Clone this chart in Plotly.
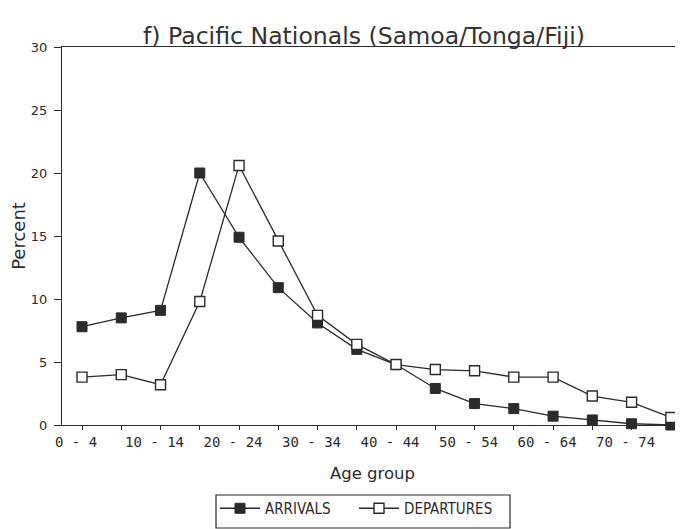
import plotly.graph_objects as go

age_groups = ["0 - 4", "5 - 9", "10 - 14", "15 - 19", "20 - 24", "25 - 29", "30 - 34",
              "35 - 39", "40 - 44", "45 - 49", "50 - 54", "55 - 59", "60 - 64",
              "65 - 69", "70 - 74", "75 +"]
tick_labels = ["0 - 4", "", "10 - 14", "", "20 - 24", "", "30 - 34", "", "40 - 44", "",
               "50 - 54", "", "60 - 64", "", "70 - 74", ""]
arrivals = [7.8, 8.5, 9.1, 20.0, 14.9, 10.9, 8.1, 6.0, 4.8, 2.9, 1.7, 1.3, 0.7, 0.4, 0.1, 0.0]
departures = [3.8, 4.0, 3.2, 9.8, 20.6, 14.6, 8.7, 6.4, 4.8, 4.4, 4.3, 3.8, 3.8, 2.3, 1.8, 0.6]

ink = "#2b2b2b"
x = list(range(len(age_groups)))

# page body has an 8px default margin, so the figure is 8px smaller than the window
W, H = 675, 521
L, T, B = 54, 39, 104
PW, PH = W - L, H - T - B

fig = go.Figure()
fig.add_trace(go.Scatter(
    x=x, y=arrivals, name="ARRIVALS", mode="lines+markers", cliponaxis=False,
    line=dict(color=ink, width=1.3),
    marker=dict(symbol="square", size=10, color=ink, line=dict(color=ink, width=1)),
))
fig.add_trace(go.Scatter(
    x=x, y=departures, name="DEPARTURES", mode="lines+markers", cliponaxis=False,
    line=dict(color=ink, width=1.3),
    marker=dict(symbol="square", size=10, color="white", line=dict(color=ink, width=1.4)),
))

# legend frame
fig.add_shape(type="rect", xref="paper", yref="paper",
              x0=(208 - L) / PW, x1=(502 - L) / PW,
              y0=(T + PH - 520) / PH, y1=(T + PH - 487) / PH,
              line=dict(color=ink, width=1.2), fillcolor="rgba(0,0,0,0)")

fig.update_layout(
    width=W, height=H,
    margin=dict(l=L, r=0, t=T, b=B, autoexpand=False),
    paper_bgcolor="white", plot_bgcolor="white",
    font=dict(family="DejaVu Sans", color=ink, size=12),
    title=dict(text="f) Pacific Nationals (Samoa/Tonga/Fiji)", x=356 / W, xanchor="center",
               xref="container", yref="container", y=1 - 28 / H, yanchor="middle",
               font=dict(family="DejaVu Sans", size=23.6, color="#333")),
    showlegend=True,
    legend=dict(orientation="h", x=(207 - L) / PW, xanchor="left",
                y=(T + PH - 500.5) / PH, yanchor="middle",
                borderwidth=0, bgcolor="rgba(0,0,0,0)",
                font=dict(size=15, family="DejaVu Sans Condensed"),
                itemwidth=40, entrywidth=84, entrywidthmode="pixels"),
)
fig.update_xaxes(
    range=[-0.51, 15.31], tickmode="array", tickvals=x, ticktext=tick_labels,
    showline=True, linecolor=ink, linewidth=1.3, mirror=True, automargin=False,
    ticks="outside", ticklen=4, tickcolor=ink, showgrid=False, zeroline=False,
    tickfont=dict(size=14, family="DejaVu Sans Mono"), ticklabelshift=-6,
    title=dict(text="Age group", font=dict(size=16.5), standoff=18),
)
fig.update_yaxes(
    range=[0, 30], tickvals=[0, 5, 10, 15, 20, 25, 30], automargin=False,
    showline=True, linecolor=ink, linewidth=1.3,
    ticks="outside", ticklen=7, tickcolor=ink, showgrid=False, zeroline=False,
    tickfont=dict(size=13, family="DejaVu Sans"), ticklabelstandoff=4,
    title=dict(text="Percent", font=dict(size=18), standoff=11),
)

fig.write_html("out.html")
